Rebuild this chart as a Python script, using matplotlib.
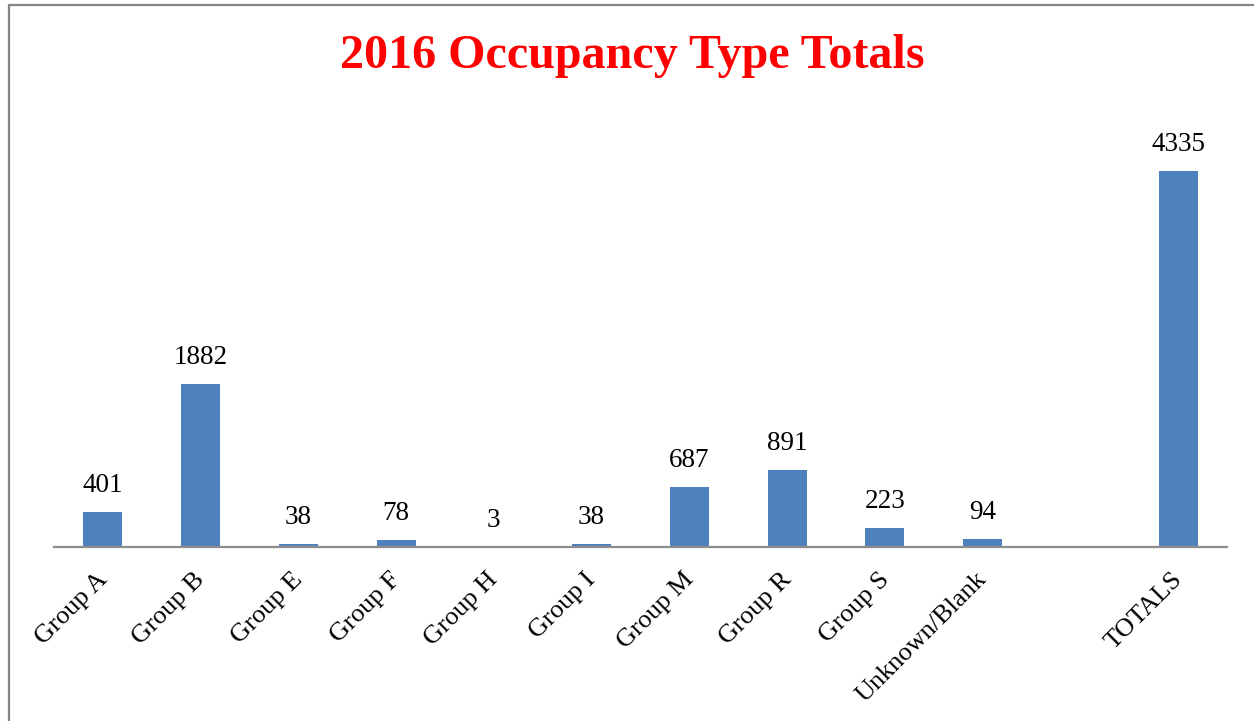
import matplotlib.pyplot as plt
import matplotlib.transforms as mtransforms
from matplotlib.patches import Rectangle

categories = ['Group A', 'Group B', 'Group E', 'Group F', 'Group H', 'Group I',
              'Group M', 'Group R', 'Group S', 'Unknown/Blank', '', 'TOTALS']
values = [401, 1882, 38, 78, 3, 38, 687, 891, 223, 94, None, 4335]

plt.rcParams['font.family'] = ['Liberation Serif', 'DejaVu Serif']

fig = plt.figure(figsize=(12.54, 7.21), dpi=100)
ax = fig.add_axes([0.04306, 0.24133, 0.93541, 0.60194])

xs = [i for i, v in enumerate(values) if v is not None]
hs = [v for v in values if v is not None]
ax.bar(xs, hs, width=0.4, color='#4F81BD', zorder=2)
for x, v in zip(xs, hs):
    ax.annotate(str(v), (x, v), xytext=(0, 10), textcoords='offset points',
                ha='center', va='bottom', fontsize=19.5, color='black')

ax.set_xlim(-0.5, 11.5)
ax.set_ylim(0, 5000)
ax.set_xticks(range(len(categories)))
ax.set_xticklabels(categories, rotation=45, ha='right', va='top',
                   rotation_mode='anchor', fontsize=19)
ax.tick_params(axis='x', length=0, pad=14)
shift = mtransforms.ScaledTranslation(-7 / 100, -2 / 100, fig.dpi_scale_trans)
for lbl in ax.get_xticklabels():
    lbl.set_transform(lbl.get_transform() + shift)
ax.set_yticks([])
for s in ['top', 'right', 'left']:
    ax.spines[s].set_visible(False)
ax.spines['bottom'].set_color('#8c8c8c')
ax.spines['bottom'].set_linewidth(1.6)

fig.text(0.5045, 0.906, '2016 Occupancy Type Totals', ha='center', va='baseline',
         fontsize=34.6, fontweight='bold', color='#FF0000')

# outer chart border (cropped on right and bottom)
fig.add_artist(Rectangle((8.5 / 1254, -0.1), 1.2, 1.1 - 4.5 / 721,
                         transform=fig.transFigure, fill=False,
                         edgecolor='#868686', linewidth=1.6))

fig.savefig('out.png', dpi=100)
